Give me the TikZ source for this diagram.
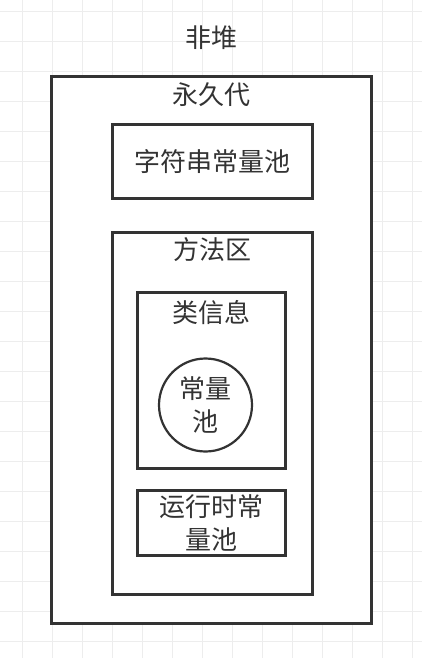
\documentclass[tikz,border=0pt]{standalone}
\usepackage{fontspec}
\setmainfont{Noto Sans CJK SC}
\usepackage{xcolor}
\usetikzlibrary{positioning}
\definecolor{inkgray}{HTML}{333333}
\definecolor{gridgray}{HTML}{EDEDED}

\begin{document}
\begin{tikzpicture}[
  x=1pt, y=1pt,
  font=\fontsize{26}{33}\selectfont,
  area/.style={draw=inkgray, line width=3pt, fill=white, inner sep=0pt,
               outer sep=0pt, text=inkgray, align=center},
  tag/.style={inner sep=0pt, outer sep=0pt, text=inkgray},
  pool/.style={circle, draw=inkgray, line width=2.2pt, fill=white, inner sep=0pt,
               minimum size=93pt, align=center, text=inkgray},
  gridline/.style={draw=gridgray, line width=1.5pt}]
\useasboundingbox (0,0) rectangle (422,-658);
% background grid
\foreach \k in {0,...,13} \draw[gridline] (22.7+30*\k,0) -- (22.7+30*\k,-658);
\foreach \k in {0,...,21} \draw[gridline] (0,-11.7-30*\k) -- (422,-11.7-30*\k);
% permanent generation
\node[area, minimum width=320pt, minimum height=547pt] (perm) at (211.5,-350) {};
\node[tag, above=26.5pt of perm.north] (nonheap) {非堆};
\node[tag, below=6.5pt of perm.north] (permlbl) {永久代};
\node[area, minimum width=200pt, minimum height=73pt] (strpool) at (212,-161.5) {字符串常量池};
% method area
\node[area, minimum width=200pt, minimum height=362pt] (method) at (212,-413) {};
\node[tag, below=6pt of method.north] (methodlbl) {方法区};
\node[area, minimum width=148.5pt, minimum height=176pt] (classinfo) at (211.25,-380.5) {};
\node[tag, below=7.5pt of classinfo.north] (classlbl) {类信息};
\node[pool] (constpool) at (205.5,-405) {常量\\池};
\node[area, minimum width=148.5pt, minimum height=64.5pt] (rtpool) at (211.25,-522.75) {运行时常\\量池};
\end{tikzpicture}
\end{document}
